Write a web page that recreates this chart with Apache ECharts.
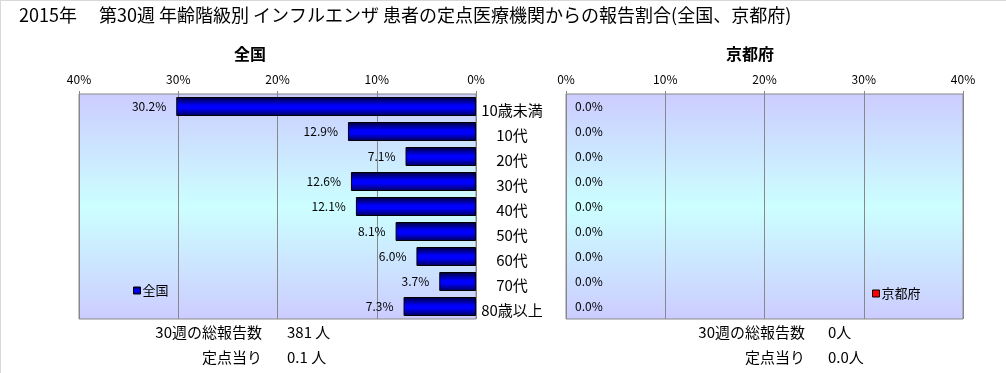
<!DOCTYPE html>
<html>
<head>
<meta charset="utf-8">
<script src="https://cdn.jsdelivr.net/npm/echarts@6/dist/echarts.min.js"></script>
<style>
html,body{margin:0;padding:0;background:#fff;}
#wrap{position:absolute;left:0;top:0;width:1006px;height:373px;box-sizing:border-box;border-top:1px solid #d8d8d8;border-left:1px solid #d8d8d8;}
#chart{position:absolute;left:0;top:0;width:1006px;height:373px;}
</style>
</head>
<body>
<div id="wrap"></div>
<div id="chart"></div>
<script>
const categories = ['10歳未満','10代','20代','30代','40代','50代','60代','70代','80歳以上'];
const nationalValues = [30.2, 12.9, 7.1, 12.6, 12.1, 8.1, 6.0, 3.7, 7.3];
const kyotoValues = [0, 0, 0, 0, 0, 0, 0, 0, 0];
const titleText = '2015年\u3000 第30週 年齢階級別 インフルエンザ 患者の定点医療機関からの報告割合(全国、京都府)';
const leftName = '全国';
const rightName = '京都府';
const leftTotal = ['30週の総報告数', '381 人'];
const leftPer = ['定点当り', '0.1 人'];
const rightTotal = ['30週の総報告数', '0人'];
const rightPer = ['定点当り', '0.0人'];

const FONT = '"Noto Sans CJK JP", "Noto Sans", sans-serif';
const chart = echarts.init(document.getElementById('chart'), null, {renderer: 'canvas'});

const plotBg = {
  type: 'linear', x: 0, y: 0, x2: 0, y2: 1,
  colorStops: [
    {offset: 0, color: '#ccccff'},
    {offset: 0.5, color: '#ccffff'},
    {offset: 1, color: '#ccccff'}
  ]
};
const barFill = {
  type: 'linear', x: 0, y: 0, x2: 0, y2: 1,
  colorStops: [
    {offset: 0, color: '#000033'},
    {offset: 0.45, color: '#0000ff'},
    {offset: 0.6, color: '#0000ff'},
    {offset: 1, color: '#000055'}
  ]
};

const xAxisCommon = {
  type: 'value', min: 0, max: 40, interval: 10, position: 'top',
  axisLine: {show: false},
  axisTick: {show: true, length: 3, lineStyle: {color: '#888'}},
  splitLine: {show: true, lineStyle: {color: '#888', width: 1}},
  axisLabel: {formatter: '{value}%', fontSize: 12, color: '#000', margin: 9, fontFamily: FONT}
};

const footFont = '15px ' + FONT;

const option = {
  animation: false,
  textStyle: {fontFamily: FONT},
  title: [
    {text: titleText, left: 14, top: 1, textStyle: {fontSize: 18, fontWeight: 'normal', color: '#000', fontFamily: FONT}},
    {text: leftName, left: 245, top: 41, textAlign: 'center', textStyle: {fontSize: 16, fontWeight: 'bold', color: '#000', fontFamily: FONT}},
    {text: rightName, left: 745, top: 41, textAlign: 'center', textStyle: {fontSize: 16, fontWeight: 'bold', color: '#000', fontFamily: FONT}}
  ],
  legend: [
    {data: [{name: leftName, itemStyle: {borderColor: '#000', borderWidth: 1}}], left: 128, top: 279, icon: 'rect', itemWidth: 7, itemHeight: 7, itemGap: 2,
     textStyle: {fontSize: 13, color: '#000', fontFamily: FONT, padding: [0,0,0,-3]}},
    {data: [{name: rightName, itemStyle: {color: '#ff0000', borderColor: '#000', borderWidth: 1}}], left: 867, top: 282, icon: 'rect', itemWidth: 7, itemHeight: 7, itemGap: 2,
     textStyle: {fontSize: 13, color: '#000', fontFamily: FONT, padding: [0,0,0,-3]}}
  ],
  grid: [
    {left: 79, top: 94, width: 397, height: 225, show: true, backgroundColor: plotBg, borderColor: '#888', borderWidth: 1},
    {left: 566, top: 94, width: 397, height: 225, show: true, backgroundColor: plotBg, borderColor: '#888', borderWidth: 1}
  ],
  xAxis: [
    Object.assign({}, xAxisCommon, {gridIndex: 0, inverse: true}),
    Object.assign({}, xAxisCommon, {gridIndex: 1})
  ],
  yAxis: [
    {type: 'category', gridIndex: 0, data: categories, inverse: true, position: 'right',
     axisLine: {show: false}, axisTick: {show: false}, splitLine: {show: false},
     axisLabel: {show: true, align: 'center', margin: 36, color: '#000', fontFamily: FONT,
       formatter: v => '{c|' + v + '}',
       rich: {c: {fontSize: 15, color: '#000', fontFamily: FONT, padding: [8, 0, 0, 0]}}}},
    {type: 'category', gridIndex: 1, data: categories, inverse: true,
     axisLine: {show: false}, axisTick: {show: false}, splitLine: {show: false},
     axisLabel: {show: false}}
  ],
  series: [
    {name: leftName, type: 'bar', xAxisIndex: 0, yAxisIndex: 0, data: nationalValues, barWidth: 19,
     itemStyle: {color: barFill, borderColor: '#000', borderWidth: 1},
     label: {show: true, position: 'left', distance: 10, fontSize: 12, color: '#000', fontFamily: FONT,
       formatter: p => p.value.toFixed(1) + '%'}},
    {name: rightName, type: 'bar', xAxisIndex: 1, yAxisIndex: 1, data: kyotoValues, barWidth: 19,
     itemStyle: {color: '#ff0000', borderWidth: 0},
     label: {show: true, position: 'right', distance: 9, fontSize: 12, color: '#000', fontFamily: FONT,
       formatter: p => p.value.toFixed(1) + '%'}}
  ],
  graphic: [
    {type: 'text', right: 1006 - 262, top: 325, style: {text: leftTotal[0], font: footFont, fill: '#000', textAlign: 'right'}},
    {type: 'text', left: 287, top: 325, style: {text: leftTotal[1], font: footFont, fill: '#000'}},
    {type: 'text', right: 1006 - 262, top: 350, style: {text: leftPer[0], font: footFont, fill: '#000', textAlign: 'right'}},
    {type: 'text', left: 287, top: 350, style: {text: leftPer[1], font: footFont, fill: '#000'}},
    {type: 'text', right: 1006 - 805, top: 325, style: {text: rightTotal[0], font: footFont, fill: '#000', textAlign: 'right'}},
    {type: 'text', left: 828, top: 325, style: {text: rightTotal[1], font: footFont, fill: '#000'}},
    {type: 'text', right: 1006 - 805, top: 350, style: {text: rightPer[0], font: footFont, fill: '#000', textAlign: 'right'}},
    {type: 'text', left: 828, top: 350, style: {text: rightPer[1], font: footFont, fill: '#000'}}
  ]
};
chart.setOption(option);
</script>
</body>
</html>
